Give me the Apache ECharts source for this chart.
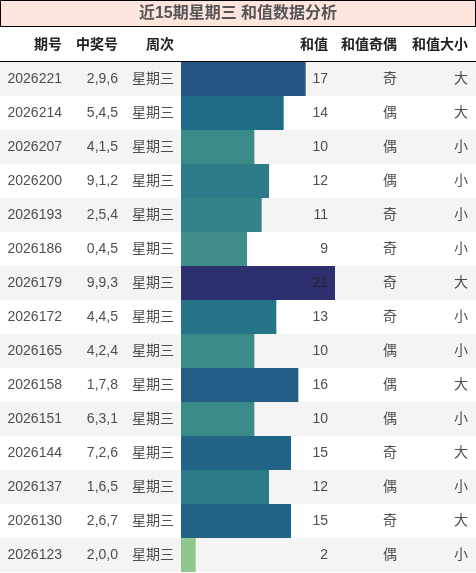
<!DOCTYPE html><html><head><meta charset="utf-8">
<script src="https://cdn.jsdelivr.net/npm/echarts@6/dist/echarts.min.js"></script>
<style>html,body{margin:0;padding:0;background:#fff}#c{width:476px;height:573px}</style></head><body><div id="c"></div>
<script>
const issues=['2026221','2026214','2026207','2026200','2026193','2026186','2026179','2026172','2026165','2026158','2026151','2026144','2026137','2026130','2026123'];
const numbers=['2,9,6','5,4,5','4,1,5','9,1,2','2,5,4','0,4,5','9,9,3','4,4,5','4,2,4','1,7,8','6,3,1','7,2,6','1,6,5','2,6,7','2,0,0'];
const weekday=['星期三','星期三','星期三','星期三','星期三','星期三','星期三','星期三','星期三','星期三','星期三','星期三','星期三','星期三','星期三'];
const sums=[17,14,10,12,11,9,21,13,10,16,10,15,12,15,2];
const parity=['奇','偶','偶','偶','奇','奇','奇','奇','偶','偶','偶','奇','偶','奇','偶'];
const size=['大','大','小','小','小','小','大','小','小','大','小','大','小','大','小'];
const headers=['期号','中奖号','周次','和值','和值奇偶','和值大小'];

const stops=[[2,[142,198,139]],[9,[63,142,137]],[10,[58,138,135]],[12,[43,124,136]],[14,[32,108,136]],[17,[36,85,131]],[21,[45,47,110]]];
function col(v){for(let i=0;i<stops.length-1;i++){const a=stops[i],b=stops[i+1];if(v<=b[0]){const t=(v-a[0])/(b[0]-a[0]);const c=a[1].map((x,k)=>Math.round(x+(b[1][k]-x)*t));return 'rgb('+c.join(',')+')';}}return 'rgb(45,47,110)';}

const chart=echarts.init(document.getElementById('c'));
const colX=[62,118,174,328,397,468];
const cols=[issues,numbers,weekday,sums,parity,size];
const textSeries=cols.map((arr,ci)=>({type:'scatter',xAxisIndex:1,yAxisIndex:1,symbolSize:0,silent:true,z:5,
  data:arr.map((v,i)=>({value:[colX[ci],i],lab:String(v)})),
  label:{show:true,position:'inside',align:'right',verticalAlign:'middle',fontSize:14,color:'#222',fontFamily:'Liberation Sans, Noto Sans CJK SC',formatter:p=>p.data.lab}}));
chart.setOption({
  animation:false,
  grid:[{left:181,width:154,top:62,height:510},{left:0,right:0,top:62,height:510}],
  xAxis:[{type:'value',min:0,max:21,show:false,gridIndex:0},{type:'value',min:0,max:476,show:false,gridIndex:1}],
  yAxis:[{type:'category',data:issues,inverse:true,show:false,gridIndex:0},
    {type:'category',data:issues,inverse:true,gridIndex:1,axisLine:{show:false},axisTick:{show:false},axisLabel:{show:false},splitLine:{show:false},
     splitArea:{show:true,areaStyle:{color:['#f4f4f4','#ffffff']}}}],
  series:[{type:'bar',data:sums.map(v=>({value:v,itemStyle:{color:col(v)}})),barWidth:'100%',z:3,xAxisIndex:0,yAxisIndex:0}].concat(textSeries),
  graphic:[
    {type:'rect',shape:{x:0.5,y:0.5,width:475,height:26},style:{fill:'#fde5dd',stroke:'#000',lineWidth:1},z:10},
    {type:'text',x:238,y:14,style:{text:'近15期星期三 和值数据分析',fill:'#555',font:'bold 16px "Liberation Sans","Noto Sans CJK SC"',textAlign:'center',textVerticalAlign:'middle'},z:11},
    {type:'line',shape:{x1:0,y1:61.5,x2:476,y2:61.5},style:{stroke:'#000',lineWidth:1},z:10}
  ].concat(headers.map((h,i)=>({type:'text',x:colX[i],y:45,style:{text:h,fill:'#222',font:'bold 14px "Liberation Sans","Noto Sans CJK SC"',textAlign:'right',textVerticalAlign:'middle'},z:11})))
});
</script></body></html>
